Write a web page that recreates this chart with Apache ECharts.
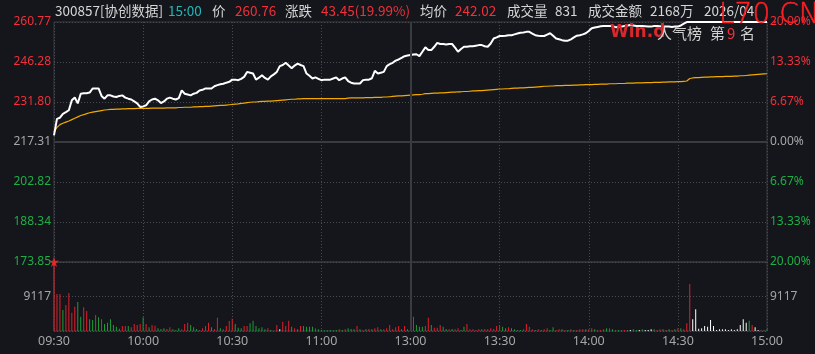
<!DOCTYPE html>
<html><head><meta charset="utf-8">
<script src="https://cdn.jsdelivr.net/npm/echarts@6/dist/echarts.min.js"></script>
<style>html,body{margin:0;padding:0;background:#14161b;}#c{width:815px;height:354px;}</style>
</head><body><div id="c"></div>
<script>
// ---------- data ----------
const prevClose = 217.31;
const timeTicks = ['09:30','10:00','10:30','11:00','13:00','13:30','14:00','14:30','15:00'];
const prices = [
 219.7,225.7,226.1,227.5,228.1,228.8,232.4,233.4,231.3,234.8,
 235.0,235.0,235.2,236.7,236.7,236.7,234.0,233.0,234.2,234.2,
 233.8,233.6,234.0,234.2,233.4,233.0,232.7,232.0,231.3,230.0,
 230.2,230.6,232.0,232.7,233.0,232.4,231.4,232.0,233.0,233.4,
 233.0,232.7,233.2,236.0,234.8,234.5,234.2,234.8,235.1,236.0,
 236.2,236.7,236.7,236.7,237.5,237.9,238.2,238.4,238.8,239.1,
 239.9,239.9,239.7,240.2,240.9,242.7,242.4,242.1,239.9,240.6,
 241.5,240.5,239.9,241.1,241.8,242.7,244.8,245.2,246.0,245.0,
 244.0,245.0,245.7,245.2,244.8,242.1,241.3,240.3,240.7,240.2,
 239.7,239.9,239.9,239.9,240.3,240.7,239.7,240.3,240.7,239.4,
 238.8,238.5,238.5,238.5,239.7,239.9,239.9,240.4,243.1,242.1,
 242.4,242.7,244.8,245.5,246.0,246.8,247.2,247.8,248.4,248.6,
 248.8,249.0,249.1,248.4,250.0,251.6,250.6,250.6,251.8,253.2,
 252.8,252.8,252.6,252.8,252.8,251.5,250.0,251.0,251.8,251.8,
 252.0,252.0,252.2,252.4,252.4,252.0,251.8,253.0,254.8,255.2,
 255.7,255.7,255.8,256.0,256.0,256.3,256.6,256.9,257.0,257.2,
 257.2,256.6,256.0,255.8,255.7,255.7,256.2,256.7,255.8,254.8,
 254.5,254.2,254.0,254.0,254.5,255.2,255.8,256.0,256.3,256.7,
 257.5,258.5,258.8,259.0,259.2,259.3,259.3,259.3,259.3,258.9,
 259.0,259.1,259.3,259.5,259.7,259.5,259.3,259.3,259.3,259.2,
 259.1,259.1,259.3,259.3,259.2,259.1,259.1,259.1,259.0,259.1,
 259.1,259.5,260.2,260.76,260.76,260.76,260.76,260.76,260.76,260.76,
 260.76,260.76,260.76,260.76,260.76,260.76,260.76,260.76,260.76,260.76,
 260.76,260.76,260.76,260.76,260.76,260.76,260.76,260.76,260.76,260.76,
 260.76
];
const avgPrices = [
 221.0,222.6,223.6,224.1,224.5,224.9,225.4,225.9,226.4,226.9,
 227.2,227.6,227.9,228.1,228.3,228.5,228.7,228.9,229.0,229.1,
 229.1,229.2,229.2,229.3,229.3,229.4,229.4,229.4,229.5,229.5,
 229.5,229.5,229.5,229.6,229.6,229.6,229.6,229.6,229.7,229.7,
 229.7,229.7,229.8,229.8,229.9,229.9,229.9,230.0,230.0,230.1,
 230.1,230.2,230.2,230.3,230.4,230.5,230.6,230.6,230.7,230.8,
 230.9,231.0,231.1,231.3,231.4,231.6,231.7,231.8,231.8,231.9,
 232.0,232.0,232.1,232.1,232.2,232.3,232.4,232.5,232.6,232.7,
 232.8,232.8,232.9,232.9,233.0,233.0,233.0,233.0,233.0,233.0,
 233.0,233.0,233.0,233.0,233.0,233.0,233.0,233.0,233.0,233.2,
 233.3,233.3,233.3,233.3,233.3,233.4,233.4,233.4,233.5,233.5,
 233.5,233.6,233.6,233.7,233.8,233.9,234.0,234.0,234.1,234.2,
 234.3,234.4,234.5,234.5,234.6,234.8,234.8,234.9,235.0,235.0,
 235.1,235.1,235.2,235.3,235.4,235.4,235.5,235.5,235.6,235.6,
 235.7,235.8,235.8,235.9,235.9,236.0,236.1,236.2,236.3,236.4,
 236.5,236.5,236.6,236.6,236.7,236.8,236.8,236.9,236.9,237.0,
 237.1,237.1,237.2,237.3,237.4,237.5,237.5,237.6,237.6,237.7,
 237.7,237.7,237.8,237.8,237.8,237.9,237.9,238.0,238.0,238.1,
 238.1,238.1,238.2,238.2,238.3,238.3,238.3,238.4,238.4,238.4,
 238.5,238.5,238.5,238.6,238.6,238.6,238.7,238.7,238.7,238.8,
 238.8,238.8,238.9,238.9,238.9,239.0,239.0,239.1,239.1,239.1,
 239.2,239.2,239.3,239.4,240.3,240.5,240.6,240.6,240.7,240.8,
 240.8,240.9,240.9,241.0,241.0,241.0,241.1,241.1,241.1,241.2,
 241.2,241.3,241.3,241.4,241.5,241.6,241.7,241.8,241.9,242.0,
 242.02
];
const volumes = [
 18234,9780,9780,5550,6870,10040,4850,6430,7660,3790,
 6260,5290,3080,2910,4230,3610,3080,1850,2200,3080,
 1590,1150,620,1320,1320,1320,970,1850,1590,1850,
 3610,1850,970,1590,1410,700,530,700,530,970,
 440,260,700,440,1850,2200,1590,970,530,260,
 700,1320,2200,970,530,3520,700,440,1320,2640,
 3260,1850,880,700,1320,1320,2030,2730,1320,700,
 970,440,700,260,90,1590,440,2470,1320,2730,
 1150,700,440,1320,1320,1150,1150,1150,700,440,
 260,180,180,260,180,260,440,260,440,700,
 530,440,1320,440,260,440,530,440,700,970,
 440,440,700,1590,440,970,1320,440,1320,440,
 970,
 3790,1590,1150,1150,1320,3520,1590,880,880,1590,
 1150,530,440,530,440,700,260,1150,1850,440,
 440,260,440,440,530,440,700,530,1320,1590,
 1150,700,970,700,440,260,260,440,1850,1150,
 440,260,440,260,440,700,260,970,260,440,
 440,260,260,440,260,260,440,440,440,440,
 700,440,260,260,440,700,700,440,260,260,
 260,260,260,260,440,260,260,440,260,260,
 440,440,260,440,440,260,440,260,440,700,
 700,440,2030,12420,3080,5730,620,700,1320,1150,
 2910,1320,260,440,440,440,260,440,260,440,
 1590,3080,2200,2730,1590,970,260,90,90,440
];
// r = up (red), g = down (green), w = unchanged / limit (white)
const volumeTone = (
 'rrrgrrrrgg'+'rrggrgrggg'+'gggrrgrrrr'+'grgrrgggrr'+'gggrrrgggr'+'rrrgrrgrrr'+
 'rgggrrgggg'+'ggrggrwrrr'+'grgrggggrg'+'ggggggrgrg'+'ggrgrgrgrr'+'grrrrrrgrg'+
 'r'+
 'rgggrrgrrr'+'ggrgrrggrr'+'rrrgrrrrrr'+'ggrggggrrr'+'rgrgrrggrr'+'grgrgrrrgr'+
 'rgrrrgrgrg'+'rrgwggwgww'+'wgrrgrgrgr'+'grrrwwwwww'+'wwwwwwwwww'+'wwwgrwwwwg'
).split('');
const volumeMax = 18234;
const volumeMid = 9117;
const pctLimit = 20;
const starMarks = [[0, -20]];

// ---------- build ----------
function pad(n){return (n<10?'0':'')+n;}
const cats = [];
for (let i=0;i<241;i++){
  let m;
  if (i<120) m = 9*60+30+i; else m = 13*60+(i-120);
  cats.push(pad(Math.floor(m/60))+':'+pad(m%60));
}
const pct = p => (p/prevClose-1)*100;

const RED='#f0303a', GREEN='#1fae45', GRAY='#a6a6a6', GRIDC='#4a4b50', FRAME='#3a3b40';
const LABEL_FONT='Noto Sans';
const colorBySign = v => { v=parseFloat(v); return v>1e-6?RED:(v<-1e-6?GREEN:GRAY); };
const showTick = (i) => i%30===0;

const chart = echarts.init(document.getElementById('c'));
const header = [
 ['300857[协创数据]',55,'#d6d6d6'],['15:00',168,'#22b8b8'],['价',212,'#d6d6d6'],['260.76',235,RED],
 ['涨跌',285,'#d6d6d6'],['43.45(19.99%)',321,RED],['均价',420,'#d6d6d6'],['242.02',455,RED],
 ['成交量',507,'#d6d6d6'],['831',555,'#d6d6d6'],['成交金额',588,'#d6d6d6'],['2168万',650,'#d6d6d6'],
 ['2026/04',704,'#d6d6d6']
];
const graphics = header.map(h => ({type:'text', x:h[1], y:11, z:10, style:{text:h[0], fill:h[2], font:'13.5px "Noto Sans CJK SC"', verticalAlign:'middle'}}));
graphics.push(
 {type:'text', x:610, y:33, z:20, style:{text:'Win.d', fill:'#d8282c', font:'bold 17px "DejaVu Sans"', verticalAlign:'middle'}},
 {type:'text', x:657, y:33, z:20, style:{text:'人气榜', fill:'#d0d0d0', font:'15px "Noto Sans CJK SC"', verticalAlign:'middle'}},
 {type:'text', x:710, y:33, z:20, style:{text:'第', fill:'#d0d0d0', font:'15px "Noto Sans CJK SC"', verticalAlign:'middle'}},
 {type:'text', x:727, y:33, z:20, style:{text:'9', fill:RED, font:'15px "Noto Sans CJK SC"', verticalAlign:'middle'}},
 {type:'text', x:740, y:33, z:20, style:{text:'名', fill:'#d0d0d0', font:'15px "Noto Sans CJK SC"', verticalAlign:'middle'}},
 {type:'text', x:719, y:16, z:30, style:{text:'L70.CN', fill:'#ff1e24', stroke:'#ff1e24', lineWidth:0.5, font:'200 28px "DejaVu Sans"', verticalAlign:'middle'}}
);

const option = {
  backgroundColor:'#14161b',
  animation:false,
  graphic: graphics,
  grid:[
    {left:54, right:48, top:22, height:240, show:true, borderColor:FRAME, borderWidth:1, backgroundColor:'transparent'},
    {left:54, right:48, top:262, height:69, show:true, borderColor:FRAME, borderWidth:1, backgroundColor:'transparent'}
  ],
  xAxis:[
    {type:'category', gridIndex:0, data:cats, boundaryGap:false,
     axisLine:{show:false}, axisTick:{show:false}, axisLabel:{show:false},
     splitLine:{show:true, interval:showTick, lineStyle:{color:GRIDC, type:[1,2], width:1}}},
    {type:'category', gridIndex:1, data:cats, boundaryGap:false,
     axisLine:{show:false}, axisTick:{show:false},
     axisLabel:{show:true, interval:showTick, color:GRAY, fontSize:12.5, fontFamily:LABEL_FONT, margin:4,
       formatter:(v)=> timeTicks.indexOf(v)>=0 ? v : ''},
     splitLine:{show:true, interval:showTick, lineStyle:{color:GRIDC, type:[1,2], width:1}}}
  ],
  yAxis:[
    {type:'value', gridIndex:0, position:'left', min:-pctLimit, max:pctLimit, interval:pctLimit/3,
     axisLine:{show:false}, axisTick:{show:false},
     axisLabel:{formatter:v=>(prevClose*(1+v/100)).toFixed(2), color:colorBySign, fontSize:12, fontFamily:LABEL_FONT, margin:3},
     splitLine:{show:true, lineStyle:{color:GRIDC, type:[1,2], width:1}}},
    {type:'value', gridIndex:0, position:'right', min:-pctLimit, max:pctLimit, interval:pctLimit/3,
     axisLine:{show:false}, axisTick:{show:false},
     axisLabel:{formatter:v=>Math.abs(v).toFixed(2)+'%', color:colorBySign, fontSize:12, fontFamily:LABEL_FONT, margin:3},
     splitLine:{show:false}},
    {type:'value', gridIndex:1, position:'left', min:0, max:volumeMax, interval:volumeMid,
     axisLine:{show:false}, axisTick:{show:false},
     axisLabel:{formatter:v=> v===volumeMid ? String(volumeMid) : '', color:GRAY, fontSize:12, fontFamily:LABEL_FONT, margin:3},
     splitLine:{show:true, lineStyle:{color:GRIDC, type:[1,2], width:1}}},
    {type:'value', gridIndex:1, position:'right', min:0, max:volumeMax, interval:volumeMid,
     axisLine:{show:false}, axisTick:{show:false},
     axisLabel:{formatter:v=> v===volumeMid ? String(volumeMid) : '', color:GRAY, fontSize:12, fontFamily:LABEL_FONT, margin:3},
     splitLine:{show:false}}
  ],
  series:[
    {type:'line', xAxisIndex:0, yAxisIndex:0, data:avgPrices.map(pct), showSymbol:false, silent:true,
     lineStyle:{color:'#f2a900', width:1.2}, z:3},
    {type:'line', xAxisIndex:0, yAxisIndex:0, data:prices.map(pct), showSymbol:false, silent:true,
     lineStyle:{color:'#ffffff', width:2}, z:4,
     markLine:{silent:true, symbol:'none', label:{show:false}, animation:false,
       lineStyle:{color:FRAME, width:2, type:'solid'},
       data:[{yAxis:0},{xAxis:'13:00'}]}},
    {type:'scatter', xAxisIndex:0, yAxisIndex:0, data:starMarks, silent:true, z:6,
     symbol:'path://M50,0 L61,35 L98,35 L68,57 L79,91 L50,70 L21,91 L32,57 L2,35 L39,35 Z',
     symbolSize:10, itemStyle:{color:'#ff2a2a'}},
    {type:'bar', xAxisIndex:1, yAxisIndex:2, data:volumes, barWidth:1, silent:true, clip:true,
     itemStyle:{color:(p)=>{const t=volumeTone[p.dataIndex]; return t==='r'?'#e0202a':(t==='g'?'#1a9e36':'#ffffff');}},
     markLine:{silent:true, symbol:'none', label:{show:false}, animation:false,
       lineStyle:{color:FRAME, width:2, type:'solid'}, data:[{xAxis:'13:00'}]}}
  ]
};
chart.setOption(option);
</script>
</body></html>
